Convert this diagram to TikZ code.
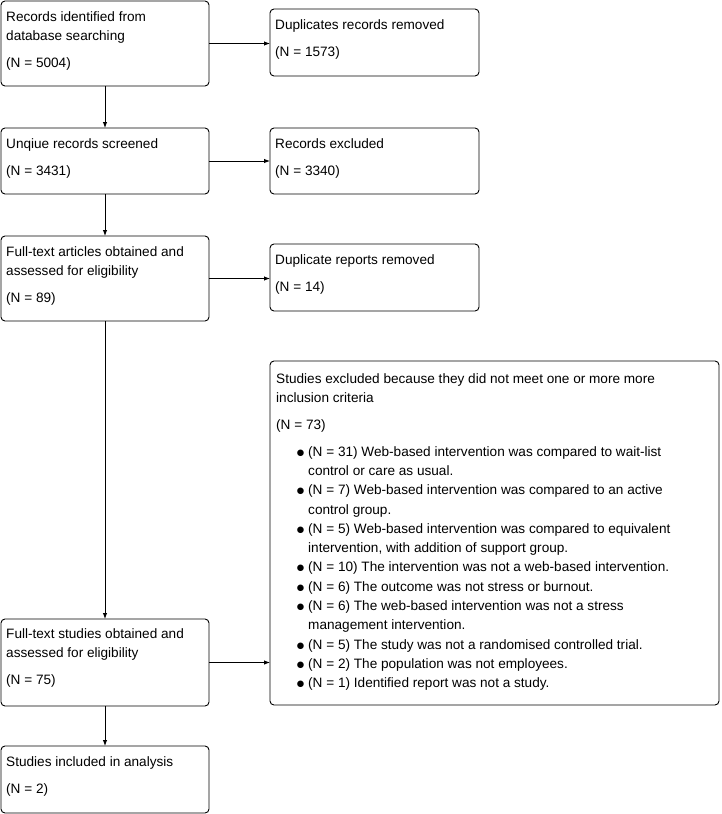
\documentclass[tikz,border=0pt]{standalone}
\usepackage{fontspec}
\setmainfont{Liberation Sans}
\newfontfamily\symfont{DejaVu Sans}
\usetikzlibrary{arrows.meta}
\newcommand{\bul}{\makebox[32pt][r]{\raisebox{1pt}{\symfont\fontsize{8.5}{9}\selectfont ●}\hspace{4pt}}}
\newcommand{\cont}{\hspace*{32pt}}
\newcommand{\fl}{\rule{0pt}{10pt}}
\begin{document}
\begin{tikzpicture}[x=1pt,y=-1pt,
  box/.style={draw, line width=0.9pt, rounded corners=4pt, inner sep=0pt, outer sep=0pt, anchor=north west},
  txt/.style={inner sep=0pt, anchor=north west, align=left, font=\fontsize{13.6}{19.3}\selectfont},
  arr/.style={line width=0.9pt, -{Latex[length=6pt,width=4.5pt]}}]
\useasboundingbox (0,0) rectangle (721,814);

\node[box, minimum width=208pt, minimum height=85pt] (b1) at (1,1) {};
\node[box, minimum width=209pt, minimum height=67pt] (b2) at (270,9) {};
\node[box, minimum width=208pt, minimum height=66pt] (b3) at (1,128) {};
\node[box, minimum width=209pt, minimum height=66pt] (b4) at (270,128) {};
\node[box, minimum width=208pt, minimum height=85pt] (b5) at (1,236) {};
\node[box, minimum width=209pt, minimum height=67pt] (b6) at (270,244) {};
\node[box, minimum width=449pt, minimum height=344pt] (b7) at (270,361) {};
\node[box, minimum width=208pt, minimum height=87pt] (b8) at (1,619) {};
\node[box, minimum width=208pt, minimum height=67pt] (b9) at (1,746) {};

\node[txt] (t1) at ([xshift=5pt,yshift=-10pt]b1.north west) {\fl Records identified from\\ database searching\\[8pt] (N = 5004)};
\node[txt] (t2) at ([xshift=5pt,yshift=-10pt]b2.north west) {\fl Duplicates records removed\\[8pt] (N = 1573)};
\node[txt] (t3) at ([xshift=5pt,yshift=-10pt]b3.north west) {\fl Unqiue records screened\\[8pt] (N = 3431)};
\node[txt] (t4) at ([xshift=5pt,yshift=-10pt]b4.north west) {\fl Records excluded\\[8pt] (N = 3340)};
\node[txt] (t5) at ([xshift=5pt,yshift=-10pt]b5.north west) {\fl Full-text articles obtained and\\ assessed for eligibility\\[8pt] (N = 89)};
\node[txt] (t6) at ([xshift=5pt,yshift=-10pt]b6.north west) {\fl Duplicate reports removed\\[8pt] (N = 14)};
\node[txt] (t7) at ([xshift=6pt,yshift=-12pt]b7.north west) {\fl Studies excluded because they did not meet one or more more\\
inclusion criteria\\[7.5pt]
(N = 73)\\[7.5pt]
\bul (N = 31) Web-based intervention was compared to wait-list\\
\cont control or care as usual.\\
\bul (N = 7) Web-based intervention was compared to an active\\
\cont control group.\\
\bul (N = 5) Web-based intervention was compared to equivalent\\
\cont intervention, with addition of support group.\\
\bul (N = 10) The intervention was not a web-based intervention.\\
\bul (N = 6) The outcome was not stress or burnout.\\
\bul (N = 6) The web-based intervention was not a stress\\
\cont management intervention.\\
\bul (N = 5) The study was not a randomised controlled trial.\\
\bul (N = 2) The population was not employees.\\
\bul (N = 1) Identified report was not a study.};
\node[txt] (t8) at ([xshift=5pt,yshift=-9pt]b8.north west) {\fl Full-text studies obtained and\\ assessed for eligibility\\[8pt] (N = 75)};
\node[txt] (t9) at ([xshift=5pt,yshift=-10pt]b9.north west) {\fl Studies included in analysis\\[8pt] (N = 2)};

\draw[arr] (b1.south) -- (b3.north);
\draw[arr] (b3.south) -- (b5.north);
\draw[arr] (b5.south) -- (b8.north);
\draw[arr] (b8.south) -- (b9.north);
\draw[arr] (b1.east) -- (b1.east -| b2.west);
\draw[arr] (b3.east) -- (b3.east -| b4.west);
\draw[arr] (b5.east) -- (b5.east -| b6.west);
\draw[arr] (b8.east) -- (b8.east -| b7.west);
\end{tikzpicture}
\end{document}
